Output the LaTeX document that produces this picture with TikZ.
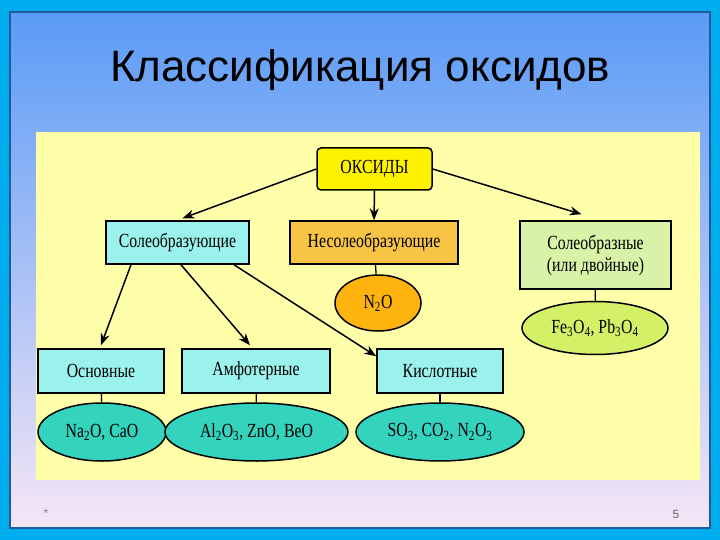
\documentclass[tikz,border=0pt]{standalone}
\usepackage{fontspec}
\setmainfont{Liberation Serif}[FakeStretch=0.79]
\newfontfamily\titlefont{Liberation Sans}
\usetikzlibrary{arrows.meta, positioning, shapes.geometric, calc}
\definecolor{slidecyan}{HTML}{00AEEF}
\definecolor{slideline}{HTML}{1F5C99}
\definecolor{slidetop}{HTML}{5A9BF6}
\definecolor{slidemid}{HTML}{90BBF5}
\definecolor{slidebot}{HTML}{F6E6F6}
\definecolor{panelfill}{HTML}{FFFFAA}
\definecolor{oxyellow}{HTML}{FFF200}
\definecolor{oxcyan}{HTML}{9BF2EC}
\definecolor{oxorange}{HTML}{F8C445}
\definecolor{oxgreen}{HTML}{D8F2A8}
\definecolor{ovorange}{HTML}{FFB30F}
\definecolor{ovgreen}{HTML}{D3F066}
\definecolor{ovteal}{HTML}{33D3BE}
\tikzset{
  box/.style={draw=black, line width=1.5pt, align=center, inner sep=0pt,
              font=\fontsize{20}{22}\selectfont, minimum height=43pt},
  oval/.style={ellipse, draw=black, line width=1.5pt, inner sep=0pt,
               font=\fontsize{20}{22}\selectfont},
  flow/.style={-{Stealth[length=4.2mm, width=3.2mm]}, line width=1.5pt, draw=black},
  link/.style={draw=black, line width=1.3pt},
}
\begin{document}
\begin{tikzpicture}[x=1pt, y=-1pt]
  % Slide
  \fill[slidecyan] (0,0) rectangle (720,540);
  \shade[top color=slidetop, middle color=slidemid, bottom color=slidebot]
    (10,12) rectangle (710,528);
  \draw[slideline, line width=1.5pt] (10,12) rectangle (710,528);
  \useasboundingbox (0,0) rectangle (720,540);
  \node[font=\titlefont\fontsize{44}{50}\selectfont] (title) at (360,70)
    {Классификация оксидов};
  \fill[panelfill] (36,132) rectangle (700,480);

  % Top level
  \node[box, fill=oxyellow, rounded corners=4pt, minimum width=115pt,
        minimum height=42pt] (oxides) at (374.5,169) {ОКСИДЫ};
  \node[box, fill=oxcyan, minimum width=143pt] (saltform) at (177.5,242.5)
    {Солеобразующие};
  \node[box, fill=oxorange, minimum width=168pt] (nonsalt) at (374,242.5)
    {Несолеобразующие};
  \node[box, fill=oxgreen, minimum width=151pt, minimum height=68pt]
    (double) at (595.5,255) {Солеобразные\\(или двойные)};

  % Examples of the upper row
  \node[oval, fill=ovorange, minimum width=86pt, minimum height=56pt]
    (n2o) at (378,303) {N\textsubscript{2}O};
  \node[oval, fill=ovgreen, minimum width=146pt, minimum height=53pt]
    (fepb) at (595,328) {Fe\textsubscript{3}O\textsubscript{4}, Pb\textsubscript{3}O\textsubscript{4}};

  % Salt-forming groups
  \node[box, fill=oxcyan, minimum width=126pt, minimum height=44pt]
    (basic) at (101,371) {Основные};
  \node[box, fill=oxcyan, minimum width=148pt, minimum height=44pt]
    (amph) at (256,371) {Амфотерные};
  \node[box, fill=oxcyan, minimum width=126pt, minimum height=44pt]
    (acid) at (440,371) {Кислотные};

  \node[oval, fill=ovteal, minimum width=128pt, minimum height=58pt]
    (basicex) at (102,432) {Na\textsubscript{2}O, CaO};
  \node[oval, fill=ovteal, minimum width=183pt, minimum height=58pt]
    (amphex) at (256.5,432) {Al\textsubscript{2}O\textsubscript{3}, ZnO, BeO};
  \node[oval, fill=ovteal, minimum width=168pt, minimum height=58pt]
    (acidex) at (440,432) {SO\textsubscript{3}, CO\textsubscript{2}, N\textsubscript{2}O\textsubscript{3}};

  % Arrows
  \draw[flow] (oxides.west) -- ([xshift=5pt, yshift=2pt]saltform.north);
  \draw[flow] (oxides.south) -- (nonsalt.north);
  \draw[flow] (oxides.east) -- ([xshift=-14pt, yshift=6pt]double.north);
  \draw[flow] ([xshift=-46.5pt]saltform.south) -- ([yshift=3pt]basic.north);
  \draw[flow] ([xshift=3.5pt]saltform.south) -- ([xshift=-6pt, yshift=3pt]amph.north);
  \draw[flow] ([xshift=56.5pt]saltform.south) -- ([yshift=-8pt]acid.north west);

  % Links to examples
  \draw[link] (nonsalt) -- (n2o);
  \draw[link] (double) -- (fepb);
  \draw[link] (basic) -- (basicex);
  \draw[link] (amph) -- (amphex);
  \draw[link] (acid) -- (acidex);

  % Footer
  \node[text=gray, font=\titlefont\fontsize{12}{14}\selectfont] (star) at (46,513) {*};
  \node[text=gray!80!black, font=\titlefont\fontsize{12}{14}\selectfont] (page) at (676,514) {5};
\end{tikzpicture}
\end{document}
